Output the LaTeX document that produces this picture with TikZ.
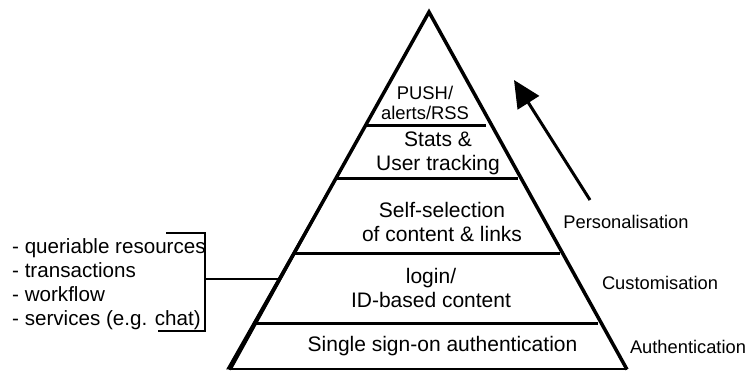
\documentclass[tikz,border=0pt]{standalone}
\usepackage{fontspec}
\setmainfont{Liberation Sans}
\usetikzlibrary{arrows.meta,calc}

\begin{document}
\begin{tikzpicture}[x=1pt,y=-1pt,
  layer/.style={font=\fontsize{21}{24}\selectfont, align=center, inner sep=0pt},
  toplayer/.style={font=\fontsize{18.4}{20}\selectfont, align=center, inner sep=0pt},
  levellabel/.style={font=\fontsize{18.3}{22}\selectfont, inner sep=0pt},
  listtext/.style={font=\fontsize{20.6}{24}\selectfont, align=left, inner sep=0pt, anchor=west},
  divider/.style={line width=3pt},
  bracket/.style={line width=2.5pt},
]
\useasboundingbox (0,0) rectangle (750,371);

% pyramid corners
\coordinate (apex) at (429,12);
\coordinate (bl) at (229,369.5);
\coordinate (br) at (627,369.5);

% sides and base; the left side is drawn heavier, widening downwards
\draw[line width=3.5pt, line join=miter] (bl) -- (apex) -- (br);
\fill (apex) -- ($(bl)+(-2.9,0)$) -- ($(bl)+(2.9,0)$) -- cycle;
\draw[line width=2pt] (bl) -- (br);

% layer dividers
\draw[divider] (367,126) -- (486,126);
\draw[divider] (337,178.5) -- (518,178.5);
\draw[divider] (295,253.5) -- (560,253.5);
\draw[divider] (256,323.5) -- (598,323.5);

% layer texts
\node[toplayer] (push) at (425,103) {PUSH/\\alerts/RSS};
\node[layer] (stats) at (438,153) {Stats \&\\User tracking};
\node[layer] (select) at (442,222) {Self-selection\\of content \& links};
\node[layer] (login) at (431,288) {login/\\ID-based content};
\node[layer] (sso) at (442.5,346) {Single sign-on authentication};

% level labels
\node[levellabel] (pers) at (626,222) {Personalisation};
\node[levellabel] (cust) at (660,283) {Customisation};
\node[levellabel] (auth) at (688,347) {Authentication};

% direction arrow
\coordinate (arrowtail) at (590,200);
\coordinate (arrowtip) at (514,80);
\draw[line width=3pt, -{Triangle[length=27pt,width=25pt]}] (arrowtail) -- (arrowtip);

% service list with bracket
\node[listtext] (list) at (12,284) {- queriable resources\\- transactions\\- workflow\\- services (e.g. chat)};
\coordinate (brtop) at (205,233);
\coordinate (brbot) at (205,331);
\coordinate (brmid) at (205,279);
\coordinate (edge) at (279.5,279);
\draw[bracket] (166,233) -- (brtop) -- (brbot) -- (158,331);
\draw[bracket] (brmid) -- (edge);
\end{tikzpicture}
\end{document}
